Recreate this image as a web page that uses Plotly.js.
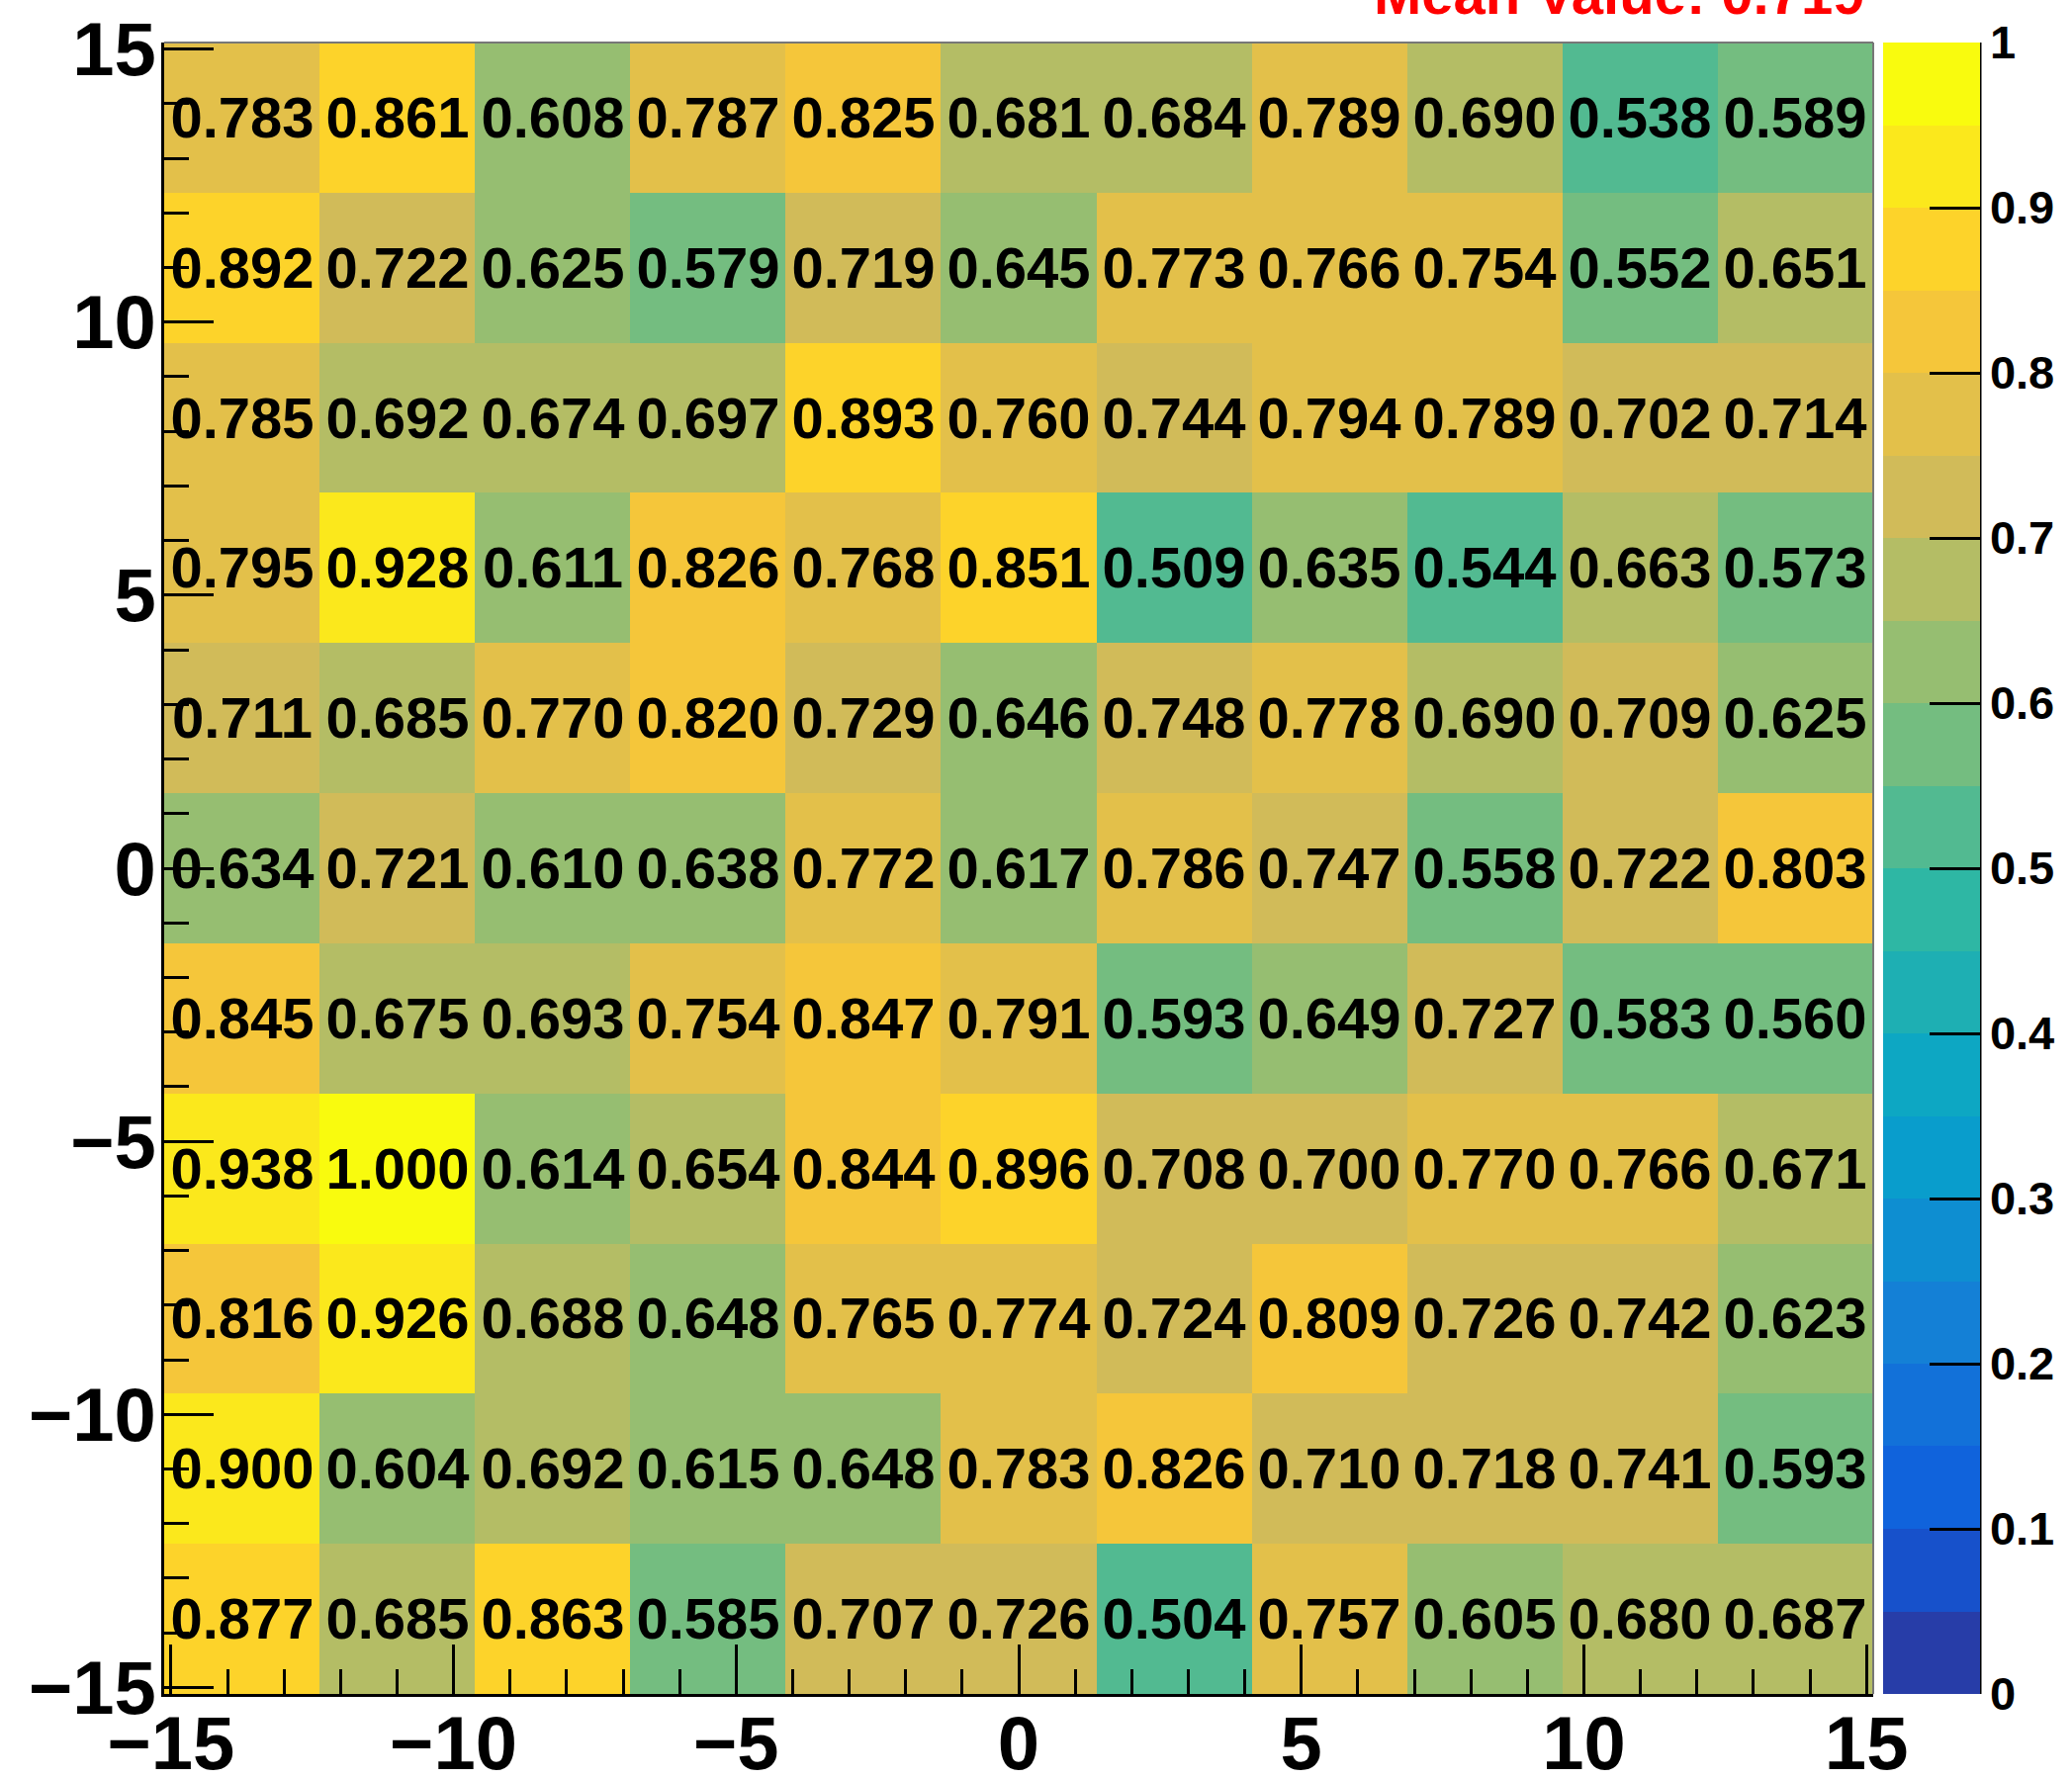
<!DOCTYPE html>
<html>
<head>
<meta charset="utf-8">
<script src="https://cdn.plot.ly/plotly-3.0.1.min.js"></script>
<style>html,body{margin:0;padding:0;background:#fff;}#chart{width:2095px;height:1799px;}</style>
</head>
<body>
<div id="chart"></div>
<script>
// Histogram range and binning (11 x 11 bins)
const axisLow = -15.12;
const axisHigh = 15.12;
const nBins = 11;

// Cell values, rows listed from bottom (y low) to top (y high), columns left to right
const row01 = [0.877, 0.685, 0.863, 0.585, 0.707, 0.726, 0.504, 0.757, 0.605, 0.680, 0.687];
const row02 = [0.900, 0.604, 0.692, 0.615, 0.648, 0.783, 0.826, 0.710, 0.718, 0.741, 0.593];
const row03 = [0.816, 0.926, 0.688, 0.648, 0.765, 0.774, 0.724, 0.809, 0.726, 0.742, 0.623];
const row04 = [0.938, 1.000, 0.614, 0.654, 0.844, 0.896, 0.708, 0.700, 0.770, 0.766, 0.671];
const row05 = [0.845, 0.675, 0.693, 0.754, 0.847, 0.791, 0.593, 0.649, 0.727, 0.583, 0.560];
const row06 = [0.634, 0.721, 0.610, 0.638, 0.772, 0.617, 0.786, 0.747, 0.558, 0.722, 0.803];
const row07 = [0.711, 0.685, 0.770, 0.820, 0.729, 0.646, 0.748, 0.778, 0.690, 0.709, 0.625];
const row08 = [0.795, 0.928, 0.611, 0.826, 0.768, 0.851, 0.509, 0.635, 0.544, 0.663, 0.573];
const row09 = [0.785, 0.692, 0.674, 0.697, 0.893, 0.760, 0.744, 0.794, 0.789, 0.702, 0.714];
const row10 = [0.892, 0.722, 0.625, 0.579, 0.719, 0.645, 0.773, 0.766, 0.754, 0.552, 0.651];
const row11 = [0.783, 0.861, 0.608, 0.787, 0.825, 0.681, 0.684, 0.789, 0.690, 0.538, 0.589];

const titleText = "Mean Value: 0.719";
const xTickValues = [-15, -10, -5, 0, 5, 10, 15];
const yTickValues = [-15, -10, -5, 0, 5, 10, 15];
const zMin = 0, zMax = 1, nLevels = 20;

// kBird palette (ROOT) stops
const birdStops = [0.0, 0.125, 0.25, 0.375, 0.5, 0.625, 0.75, 0.875, 1.0];
const birdR = [0.2082, 0.0592, 0.0780, 0.0232, 0.1802, 0.5301, 0.8186, 0.9956, 0.9764];
const birdG = [0.1664, 0.3599, 0.5041, 0.6419, 0.7178, 0.7492, 0.7328, 0.7862, 0.9832];
const birdB = [0.5293, 0.8684, 0.8385, 0.7914, 0.6425, 0.4662, 0.3499, 0.1968, 0.0539];

function bird(t) {
  let k = 0;
  while (k < birdStops.length - 2 && t > birdStops[k + 1]) k++;
  const f = (t - birdStops[k]) / (birdStops[k + 1] - birdStops[k]);
  const c = (a) => Math.round(255 * (a[k] + (a[k + 1] - a[k]) * f));
  return 'rgb(' + c(birdR) + ',' + c(birdG) + ',' + c(birdB) + ')';
}
const nCol = 255;
const colorscale = [];
for (let i = 0; i < nLevels; i++) {
  const idx = Math.min(nCol - 1, Math.floor((i + 0.99) * nCol / nLevels));
  const col = bird(idx / (nCol - 1));
  colorscale.push([i / nLevels, col]);
  colorscale.push([(i + 1) / nLevels, col]);
}

const edges = [];
for (let i = 0; i <= nBins; i++) edges.push(axisLow + i * (axisHigh - axisLow) / nBins);

const z = [row01, row02, row03, row04, row05, row06, row07, row08, row09, row10, row11];

const W = 2095, H = 1799;
const mL = 166, mR = 201, mT = 43, mB = 86;
const pw = W - mL - mR, ph = H - mT - mB;
const FONT = 'Liberation Sans, Arial, Helvetica, sans-serif';

const trace = {
  type: 'heatmap',
  x: edges,
  y: edges,
  z: z,
  zmin: zMin,
  zmax: zMax,
  colorscale: colorscale,
  texttemplate: '<b>%{z:.3f}</b>',
  textfont: {family: FONT, size: 58, color: '#000', weight: 'bold'},
  hoverinfo: 'skip',
  colorbar: {
    x: (1904 - mL) / pw,
    xanchor: 'left',
    xpad: 0,
    y: 0.5,
    yanchor: 'middle',
    ypad: 0,
    len: 1,
    lenmode: 'fraction',
    thickness: 98,
    thicknessmode: 'pixels',
    outlinewidth: 0,
    ticks: 'inside',
    ticklen: 51,
    tickwidth: 3,
    tickcolor: '#000',
    dtick: 0.1,
    tick0: 0,
    tickfont: {family: FONT, size: 47, color: '#000', weight: 'bold'}
  }
};

const axisCommon = {
  showgrid: false,
  zeroline: false,
  showline: true,
  linecolor: '#000',
  linewidth: 3,
  ticks: 'inside',
  ticklen: 50,
  tickwidth: 3,
  tickcolor: '#000',
  tickmode: 'array',
  minor: {dtick: 1, tick0: 0, ticks: 'inside', ticklen: 25, tickwidth: 3, tickcolor: '#000'},
  tickfont: {family: FONT, size: 76, color: '#000', weight: 'bold'},
  range: [axisLow, axisHigh],
  fixedrange: true
};

const layout = {
  width: W,
  height: H,
  margin: {l: mL, r: mR, t: mT, b: mB, pad: 0, autoexpand: false},
  paper_bgcolor: '#fff',
  plot_bgcolor: '#fff',
  font: {family: FONT, color: '#000'},
  xaxis: Object.assign({}, axisCommon, {tickvals: xTickValues, ticklabelstandoff: -18}),
  yaxis: Object.assign({}, axisCommon, {tickvals: yTickValues, ticklabelstandoff: -10}),
  shapes: [
    {type: 'line', xref: 'paper', yref: 'paper', x0: 0, x1: 1, y0: 1, y1: 1, line: {color: '#777', width: 2}},
    {type: 'line', xref: 'paper', yref: 'paper', x0: 1, x1: 1, y0: 0, y1: 1, line: {color: '#777', width: 2}},
    {type: 'line', xref: 'paper', yref: 'paper', x0: (2002 - mL) / pw, x1: (2002 - mL) / pw, y0: 0, y1: 1, line: {color: '#000', width: 3}}
  ],
  annotations: [{
    text: '<b>' + titleText + '</b>',
    xref: 'x', x: 15, xanchor: 'right',
    yref: 'paper', y: 1 + 50 / ph, yanchor: 'middle',
    showarrow: false,
    font: {family: FONT, size: 58, color: '#ff0000', weight: 'bold'}
  }]
};

Plotly.newPlot('chart', [trace], layout, {displayModeBar: false, staticPlot: true});
</script>
</body>
</html>
